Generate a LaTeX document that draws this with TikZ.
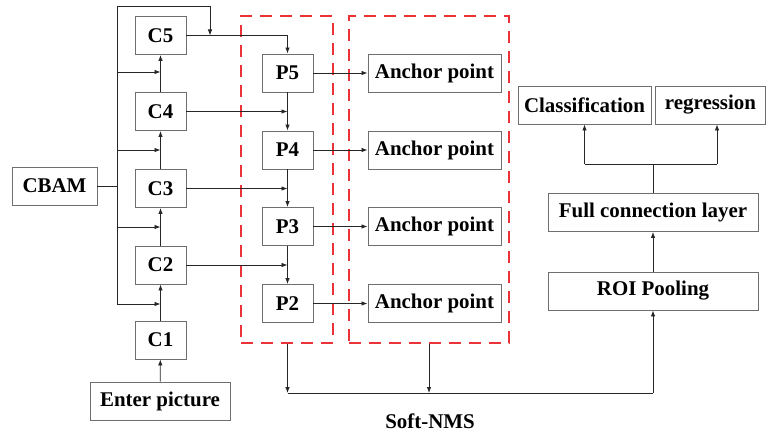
\documentclass[tikz,border=0pt]{standalone}
\usepackage{fontspec}
\setmainfont{Liberation Serif}
\newfontfamily\blkfont{Liberation Serif}
\usetikzlibrary{arrows.meta}
\definecolor{boxline}{RGB}{110,110,110}
\definecolor{dashred}{RGB}{235,50,55}
\tikzset{
  lbl/.style={font=\blkfont\fontsize{21}{23}\selectfont\bfseries},
  blk/.style={lbl, draw=boxline, line width=0.9bp, minimum height=38bp, inner sep=0pt},
  cbox/.style={blk, minimum width=51bp},
  abox/.style={blk, minimum width=133bp},
  wire/.style={line width=0.8bp, draw=black!85},
  arr/.style={wire, -{Latex[length=6bp,width=4.5bp]}},
  grp/.style={draw=dashred, line width=1.4bp, dash pattern=on 12bp off 8bp, inner sep=0pt},
}
\begin{document}
\begin{tikzpicture}[x=1bp,y=-1bp]
\useasboundingbox (0,0) rectangle (766,433);

% backbone
\node[cbox] (c5) at (160.5,35.5) {C5};
\node[cbox] (c4) at (160.5,111.5) {C4};
\node[cbox] (c3) at (160.5,188.5) {C3};
\node[cbox] (c2) at (160.5,265) {C2};
\node[cbox] (c1) at (160.5,340) {C1};
\node[blk, minimum width=140bp] (in) at (160,401) {Enter picture};
\node[blk, minimum width=85bp] (cbam) at (54.5,186) {CBAM};

% pyramid levels and anchors
\node[cbox] (p5) at (287.5,73) {P5};
\node[cbox] (p4) at (287.5,150) {P4};
\node[cbox] (p3) at (287.5,226.5) {P3};
\node[cbox] (p2) at (287.5,303.5) {P2};
\node[abox] (a5) at (434.5,73) {Anchor point};
\node[abox] (a4) at (434.5,150) {Anchor point};
\node[abox] (a3) at (434.5,226.5) {Anchor point};
\node[abox] (a2) at (434.5,303.5) {Anchor point};

% detection head
\node[abox] (cls) at (584.5,105) {Classification};
\node[blk, minimum width=110bp] (reg) at (710.5,105) {regression};
\node[blk, minimum width=210bp] (fcl) at (653,212.5) {Full connection layer};
\node[blk, minimum width=210bp] (roi) at (653,291) {ROI Pooling};

% dashed groups
\node[grp, minimum width=92bp, minimum height=327bp] (g1) at (287,179.5) {};
\node[grp, minimum width=160bp, minimum height=327bp] (g2) at (429,179.5) {};
\node[lbl] (nms) at (430,421) {Soft-NMS};

% CBAM attention bus
\coordinate (bt) at (117,6);
\coordinate (bb) at (117,304);
\coordinate (tr) at (210,6);
\coordinate (c5j) at (210,35.5);
\coordinate (c5p) at (287.5,35.5);
\draw[wire] (cbam.east) -- (cbam.east -| bt);
\draw[wire] (bb) -- (bt) -- (tr);
\draw[arr] (tr) -- (c5j);
\foreach \yy in {72,150,227} \draw[arr] (117,\yy) -- (160.5,\yy);
\draw[arr] (bb) -- (160.5,304);

% bottom-up path
\draw[arr] (in) -- (c1);
\draw[arr] (c1) -- (c2);
\draw[arr] (c2) -- (c3);
\draw[arr] (c3) -- (c4);
\draw[arr] (c4) -- (c5);

% lateral connections and top-down path
\draw[wire] (c5.east) -- (c5p);
\draw[arr] (c5p) -- (p5.north);
\draw[arr] (p5) -- (p4);
\draw[arr] (p4) -- (p3);
\draw[arr] (p3) -- (p2);
\draw[arr] (c4.east) -- (c4.east -| p4);
\draw[arr] (c3.east) -- (c3.east -| p3);
\draw[arr] (c2.east) -- (c2.east -| p2);
\foreach \i in {5,4,3,2} \draw[arr] (p\i) -- (a\i);

% Soft-NMS merge into ROI pooling
\coordinate (m1) at (287.5,393);
\coordinate (m2) at (429,393);
\coordinate (m3) at (653,393);
\draw[arr] (g1.south -| m1) -- (m1);
\draw[arr] (g2.south -| m2) -- (m2);
\draw[wire] (m1) -- (m3);
\draw[arr] (m3) -- (roi.south);

% head
\coordinate (sp) at (653,164);
\coordinate (sl) at (584.5,164);
\coordinate (sr) at (717,164);
\draw[arr] (roi) -- (fcl);
\draw[wire] (fcl.north) -- (sp);
\draw[wire] (sl) -- (sr);
\draw[arr] (sl) -- (cls.south);
\draw[arr] (sr) -- (sr |- reg.south);
\end{tikzpicture}
\end{document}
